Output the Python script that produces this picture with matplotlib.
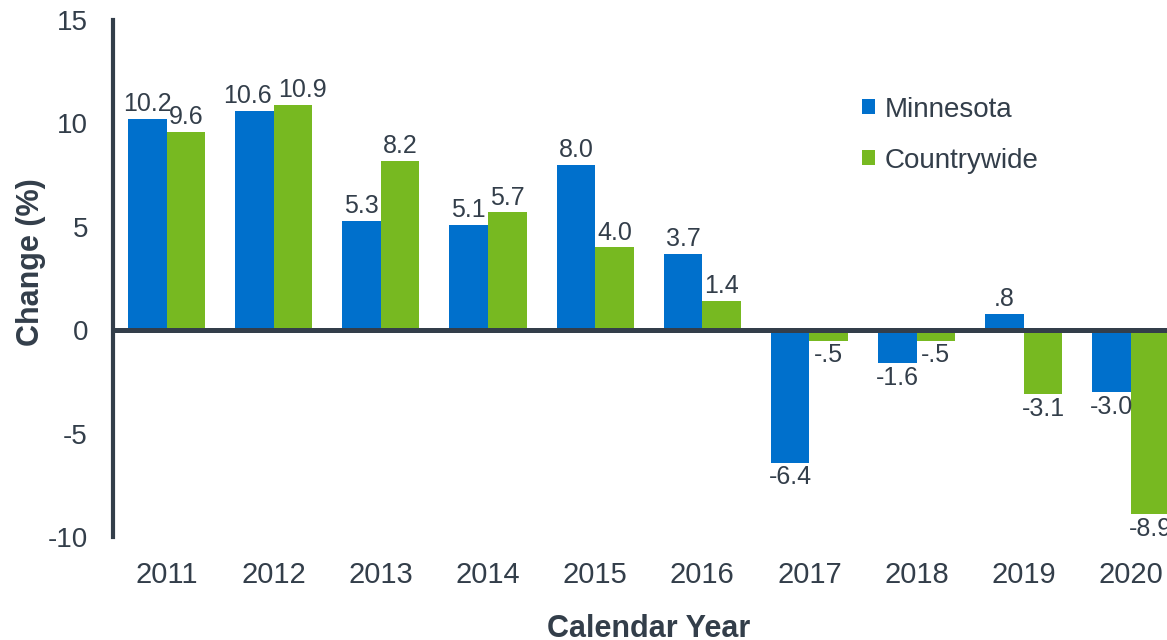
import numpy as np
import matplotlib.pyplot as plt

years = ["2011", "2012", "2013", "2014", "2015", "2016", "2017", "2018", "2019", "2020"]
minnesota = [10.2, 10.6, 5.3, 5.1, 8.0, 3.7, -6.4, -1.6, 0.8, -3.0]
countrywide = [9.6, 10.9, 8.2, 5.7, 4.0, 1.4, -0.5, -0.5, -3.1, -8.9]

blue = "#0070cc"
green = "#77b921"
dark = "#333e4a"

plt.rcParams["font.family"] = "Liberation Sans"


def fmt(v):
    s = f"{v:.1f}"
    return s.replace("0.", ".") if abs(v) < 1 else s


fig = plt.figure(figsize=(11.67, 6.4), dpi=100)
ax = fig.add_axes([113/1167, 103/640, 1071.5/1167, 517/640])

x = np.arange(len(years))
w = 0.36
b1 = ax.bar(x - 0.18, minnesota, w, color=blue, label="Minnesota", zorder=2)
b2 = ax.bar(x + 0.18, countrywide, w, color=green, label="Countrywide", zorder=2)

for k, (bars, vals) in enumerate(((b1, minnesota), (b2, countrywide))):
    other = countrywide if k == 0 else minnesota
    for i, (r, v) in enumerate(zip(bars, vals)):
        cx = r.get_x() + r.get_width() / 2
        dx = 0
        # push the two labels apart when they would collide
        if v >= 0 and other[i] >= 0 and abs(v - other[i]) < 0.5:
            dx = -5 if k == 0 else 7
        if v >= 0:
            ax.annotate(fmt(v), (cx, v), xytext=(dx, 2), textcoords="offset points",
                        ha="center", va="bottom", fontsize=18, color=dark)
        else:
            ax.annotate(fmt(v), (cx, v), xytext=(dx, -2), textcoords="offset points",
                        ha="center", va="top", fontsize=18, color=dark)

ax.axhline(0, color=dark, lw=3.6, zorder=3)
ax.set_xlim(-0.5, 9.5)
ax.set_ylim(-10, 15)
ax.set_yticks([-10, -5, 0, 5, 10, 15])
ax.set_yticklabels(["-10", "-5", "0", "5", "10", "15"])
ax.set_xticks(x)
ax.set_xticklabels(years)
ax.tick_params(axis="both", length=0, colors=dark)
ax.tick_params(axis="y", pad=18, labelsize=20)
ax.tick_params(axis="x", pad=17, labelsize=21)

for s in ["top", "right", "bottom"]:
    ax.spines[s].set_visible(False)
ax.spines["left"].set_color(dark)
ax.spines["left"].set_linewidth(3)

ax.set_ylabel("Change (%)", fontsize=22, fontweight="bold", color=dark)
ax.yaxis.set_label_coords(-0.0622, 0.532)
ax.set_xlabel("Calendar Year", fontsize=22, fontweight="bold", color=dark, labelpad=18)

leg = ax.legend(loc="upper left", bbox_to_anchor=(0.676, 0.9), frameon=False,
                fontsize=20, handlelength=0.45, handleheight=0.45, handletextpad=0.35,
                labelspacing=0.9, labelcolor=dark)

fig.savefig("out.png", dpi=100)
